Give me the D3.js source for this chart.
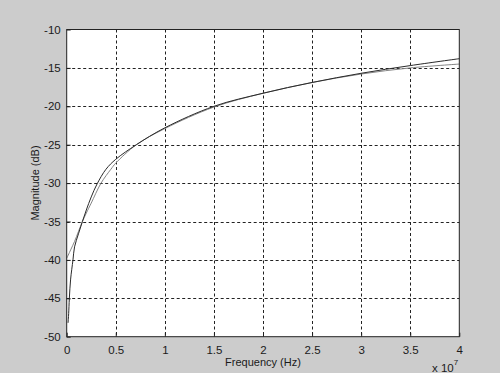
<!DOCTYPE html>
<html lang="en">
<head>
  <meta charset="UTF-8">
  <title>Magnitude vs Frequency</title>
  <script src="https://d3js.org/d3.v7.min.js"></script>
  <style>
    body {
      margin: 0;
      background-color: #cccccc;
      font-family: "Liberation Sans", Arial, Helvetica, sans-serif;
    }
    svg { display: block; }
  </style>
</head>
<body>
  <div id="chart"></div>
  <script>
    // Frequency in Hz (axis shown in units of 1e7)
    const freqA = [0.014e7, 0.02e7, 0.027e7, 0.04e7, 0.064e7, 0.08e7, 0.12e7, 0.16e7, 0.2e7, 0.25e7,
                   0.31e7, 0.4e7, 0.5e7, 0.71e7, 1e7, 1.5e7, 2e7, 2.5e7, 3e7, 3.5e7, 4e7];
    const magA  = [-48.2, -47, -45, -42.5, -40, -38.3, -36.6, -35, -33.5, -31.8,
                   -30.1, -28.2, -26.9, -25, -22.8, -20, -18.3, -16.9, -15.7, -14.7, -13.8];

    const freqB = [0, 0.04e7, 0.08e7, 0.12e7, 0.16e7, 0.2e7, 0.25e7, 0.35e7, 0.45e7, 0.5e7,
                   0.71e7, 1e7, 1.5e7, 2e7, 2.5e7, 3e7, 3.5e7, 4e7];
    const magB  = [-39.8, -38.7, -37.6, -36.3, -35, -33.9, -32.6, -30, -28.2, -27.4,
                   -25, -22.9, -20.1, -18.3, -16.9, -15.8, -15.0, -14.5];

    const xTicks = [0, 0.5e7, 1e7, 1.5e7, 2e7, 2.5e7, 3e7, 3.5e7, 4e7];
    const xTickLabels = ["0", "0.5", "1", "1.5", "2", "2.5", "3", "3.5", "4"];
    const yTicks = [-50, -45, -40, -35, -30, -25, -20, -15, -10];

    const width = 500;
    const height = 373;
    const margin = { top: 29.5, right: 40.7, bottom: 36.3, left: 66.7 };

    const svg = d3.select("#chart")
      .append("svg")
      .attr("width", width)
      .attr("height", height);

    svg.append("rect")
      .attr("width", width)
      .attr("height", height)
      .attr("fill", "#cccccc");

    const x = d3.scaleLinear()
      .domain([0, 4e7])
      .range([margin.left, width - margin.right]);

    const y = d3.scaleLinear()
      .domain([-50, -10])
      .range([height - margin.bottom, margin.top]);

    // plot area
    svg.append("rect")
      .attr("x", x(0))
      .attr("y", y(-10))
      .attr("width", x(4e7) - x(0))
      .attr("height", y(-50) - y(-10))
      .attr("fill", "white");

    // dashed grid
    const grid = svg.append("g")
      .attr("stroke", "#222")
      .attr("stroke-width", 1)
      .attr("stroke-dasharray", "3,2.5");

    grid.selectAll(".vgrid")
      .data(xTicks.slice(1, -1))
      .join("line")
      .attr("x1", d => Math.round(x(d)) + 0.5)
      .attr("x2", d => Math.round(x(d)) + 0.5)
      .attr("y1", y(-10))
      .attr("y2", y(-50));

    grid.selectAll(".hgrid")
      .data(yTicks.slice(1, -1))
      .join("line")
      .attr("x1", x(0))
      .attr("x2", x(4e7))
      .attr("y1", d => Math.round(y(d)) + 0.5)
      .attr("y2", d => Math.round(y(d)) + 0.5);

    // curves
    const line = d3.line()
      .x(d => x(d[0]))
      .y(d => y(d[1]))
      .curve(d3.curveCatmullRom.alpha(0.5));

    const seriesB = freqB.map((f, i) => [f, magB[i]]);
    const seriesA = freqA.map((f, i) => [f, magA[i]]);

    svg.append("path")
      .datum(seriesB)
      .attr("d", line)
      .attr("fill", "none")
      .attr("stroke", "#858585")
      .attr("stroke-width", 1);

    svg.append("path")
      .datum(seriesA)
      .attr("d", line)
      .attr("fill", "none")
      .attr("stroke", "#2a2a2a")
      .attr("stroke-width", 1);

    // axes (MATLAB style: inward ticks, plain hyphen minus)
    const xAxis = d3.axisBottom(x)
      .tickValues(xTicks)
      .tickFormat((d, i) => xTickLabels[i])
      .tickSizeInner(-4)
      .tickSizeOuter(0)
      .tickPadding(9);

    const yAxis = d3.axisLeft(y)
      .tickValues(yTicks)
      .tickFormat(d => String(d))
      .tickSizeInner(-4)
      .tickSizeOuter(0)
      .tickPadding(6);

    const gx = svg.append("g")
      .attr("transform", `translate(0,${y(-50)})`)
      .call(xAxis);

    const gy = svg.append("g")
      .attr("transform", `translate(${x(0)},0)`)
      .call(yAxis);

    [gx, gy].forEach(g => {
      g.select(".domain").remove();
      g.selectAll(".tick line").attr("stroke", "#222");
      g.selectAll(".tick text")
        .attr("fill", "#1a1a1a")
        .style("font-family", "'Liberation Sans', Arial, sans-serif")
        .style("font-size", "11.5px");
    });

    // box
    svg.append("rect")
      .attr("x", x(0))
      .attr("y", y(-10))
      .attr("width", x(4e7) - x(0))
      .attr("height", y(-50) - y(-10))
      .attr("fill", "none")
      .attr("stroke", "#222")
      .attr("stroke-width", 1);

    // labels
    svg.append("text")
      .attr("x", 263)
      .attr("y", 366)
      .attr("text-anchor", "middle")
      .attr("fill", "#1a1a1a")
      .style("font-size", "11px")
      .text("Frequency (Hz)");

    svg.append("text")
      .attr("transform", "translate(39,183) rotate(-90)")
      .attr("text-anchor", "middle")
      .attr("fill", "#1a1a1a")
      .style("font-size", "11px")
      .text("Magnitude (dB)");

    const expo = svg.append("text")
      .attr("x", 432)
      .attr("y", 372)
      .attr("fill", "#1a1a1a")
      .style("font-size", "11.5px")
      .text("x 10");
    expo.append("tspan")
      .attr("dy", -7)
      .style("font-size", "8px")
      .text("7");
  </script>
</body>
</html>
